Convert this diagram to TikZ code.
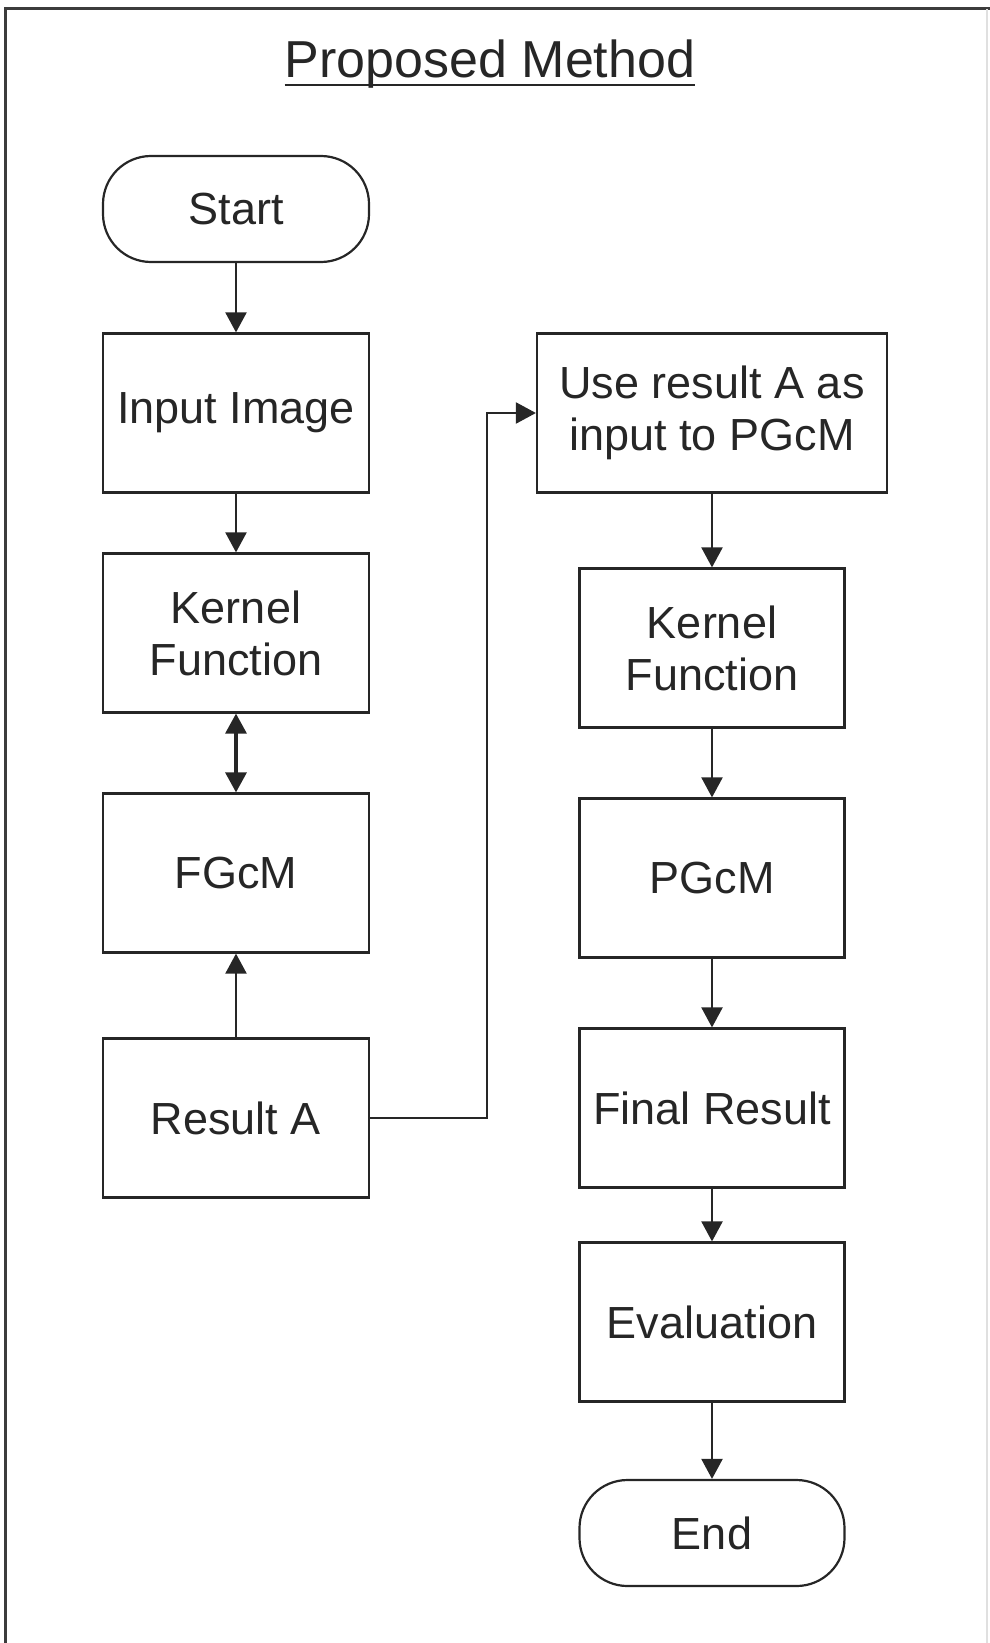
\documentclass[tikz,border=0pt]{standalone}
\usepackage{fontspec}
\setmainfont{Liberation Sans}
\usetikzlibrary{arrows.meta}
\definecolor{inkgray}{HTML}{262626}
\tikzset{
  box/.style={draw=inkgray, line width=2.2pt, minimum width=266pt, minimum height=159pt,
    align=center, inner sep=0pt, text=inkgray, font=\fontsize{45}{52}\selectfont},
  terminal/.style={box, rounded corners=48pt, minimum height=106pt},
  flow/.style={draw=inkgray, line width=2.2pt, -{Triangle[length=20pt,width=21pt]}},
}
\begin{document}
\begin{tikzpicture}[x=1pt,y=-1pt]
        \useasboundingbox (0,0) rectangle (989,1643);
        % outer frame
        \draw[inkgray!90, line width=3pt] (5,1660) -- (5,9) -- (995,9);
        \draw[black!12, line width=2pt] (987,9) -- (987,1660);
        \node[anchor=base, inner sep=0pt, text=inkgray, font=\fontsize{52}{60}\selectfont] (title) at (490,78) {Proposed Method};
        \draw[inkgray, line width=2.6pt] ([yshift=-7pt]title.base west) -- ([yshift=-7pt]title.base east);
        % left column
        \node[terminal] (start) at (236,209) {Start};
        \node[box] (input) at (236,413) {Input Image};
        \node[box] (kernA) at (236,633) {Kernel\\Function};
        \node[box] (fgcm) at (236,873) {FGcM};
        \node[box] (resA) at (236,1118) {Result A};
        % right column
        \node[box, minimum width=350pt] (useA) at (712,413) {Use result A as\\input to PGcM};
        \node[box, minimum width=265pt] (kernB) at (712,648) {Kernel\\Function};
        \node[box, minimum width=265pt] (pgcm) at (712,878) {PGcM};
        \node[box, minimum width=265pt] (final) at (712,1108) {Final Result};
        \node[box, minimum width=265pt] (eval) at (712,1322) {Evaluation};
        \node[terminal, minimum width=265pt] (end) at (712,1533) {End};
        \coordinate (bend) at (487,760);
        \draw[flow] (start) -- (input);
        \draw[flow] (input) -- (kernA);
        \draw[flow, line width=3.2pt, {Triangle[length=20pt,width=21pt]}-{Triangle[length=20pt,width=21pt]}] (kernA) -- (fgcm);
        \draw[flow] (resA) -- (fgcm);
        \draw[flow] (resA.east) -- (resA.east -| bend) |- (useA.west);
        \draw[flow] (useA) -- (kernB);
        \draw[flow] (kernB) -- (pgcm);
        \draw[flow] (pgcm) -- (final);
        \draw[flow] (final) -- (eval);
        \draw[flow] (eval) -- (end);
    \end{tikzpicture}
\end{document}
